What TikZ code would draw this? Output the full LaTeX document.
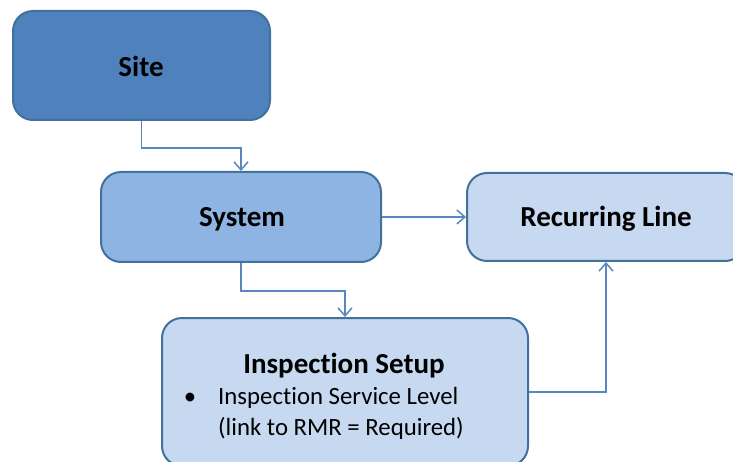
\documentclass[tikz,border=0pt]{standalone}
\usepackage{fontspec}
\setmainfont{Carlito}[Ligatures=NoCommon]
\usetikzlibrary{arrows.meta}
\definecolor{siteblue}{HTML}{4F81BD}
\definecolor{midblue}{HTML}{8EB4E3}
\definecolor{lightblue}{HTML}{C6D9F1}
\definecolor{edgeblue}{HTML}{41719C}
\definecolor{connblue}{HTML}{5A86BF}
\tikzset{
  box/.style={draw=edgeblue, line width=2pt, rounded corners=20pt, inner sep=0pt},
  ttl/.style={font=\fontsize{29}{32}\selectfont\bfseries, text=black, inner sep=0pt},
  body/.style={font=\fontsize{24.8}{31}\selectfont, text=black, inner sep=0pt},
  conn/.style={draw=connblue, line width=1.5pt, -{Straight Barb[length=8pt,width=14pt]}},
}
\begin{document}
\begin{tikzpicture}[x=1pt,y=-1pt]
\useasboundingbox (0,0) rectangle (733,462);
\clip (0,0) rectangle (733,462);
\node[box, fill=siteblue, minimum width=257pt, minimum height=109pt] (site) at (141.5,65.5) {};
\node[ttl, anchor=base] (sitet) at (141,77) {Site};
\node[box, fill=midblue, minimum width=280pt, minimum height=90pt] (system) at (241,217) {};
\node[ttl, anchor=base] (systemt) at (242,227) {System};
\node[box, fill=lightblue, minimum width=278pt, minimum height=88pt] (recur) at (606,217) {};
\node[ttl, anchor=base] (recurt) at (606,227) {Recurring Line};
\node[box, fill=lightblue, minimum width=366pt, minimum height=148pt] (insp) at (345,392) {};
\node[ttl, anchor=base] (inspt) at (344,373) {Inspection Setup};
\node[body, anchor=base] (bullet) at (190,404) {•};
\node[body, anchor=base west, align=left] (l1) at (218,435) {Inspection Service Level\\(link to RMR = Required)};
\draw[conn] (site.south) -- ++(0,27) -| (system.north);
\draw[conn] (system.east) -- (recur.west);
\draw[conn] (system.south) -- ++(0,28) -| (insp.north);
\draw[conn] (insp.east) -| (recur.south);
\end{tikzpicture}
\end{document}
